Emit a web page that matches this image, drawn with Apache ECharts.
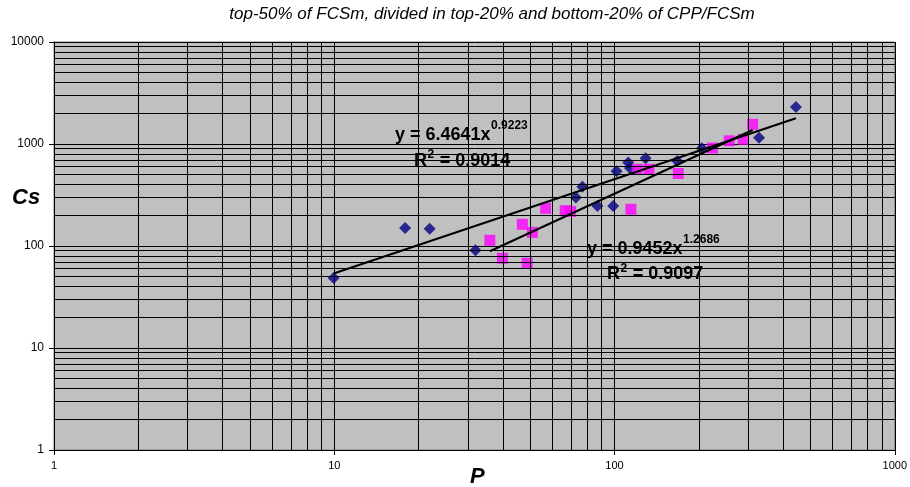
<!DOCTYPE html>
<html>
<head>
<meta charset="utf-8">
<script src="https://cdn.jsdelivr.net/npm/echarts@6/dist/echarts.min.js"></script>
<style>
html,body{margin:0;padding:0;background:#fff;}
#chart{width:910px;height:487px;}
</style>
</head>
<body>
<div id="chart"></div>
<script>
// ---- data ----
var blueP  = [9.95, 17.9, 21.9, 31.9, 72.8, 76.8, 86.9, 98.9, 101.7, 111.9, 113.5, 129.1, 167.4, 205, 328, 444];
var blueCs = [48.6, 150, 147.8, 90.8, 299, 381, 247, 247, 540, 658, 582, 724, 681, 907, 1153, 2306];

var pinkP  = [35.9, 39.8, 46.9, 50.9, 48.8, 56.8, 66.7, 69.7, 114.4, 120.5, 132.7, 168.8, 223.6, 256.6, 287.9, 311];
var pinkCs = [113.7, 75.8, 163, 136, 67.7, 234, 222, 218, 229, 565, 565, 514, 914, 1075, 1112, 1560];

// power-law trendlines (straight on log-log): end points
var blueTrendP  = [9.95, 444];
var blueTrendCs = [53.8, 1788];
var pinkTrendP  = [35.9, 311];
var pinkTrendCs = [88.8, 1372];

var xTickLabels = ['1', '10', '100', '1000'];
var yTickLabels = ['1', '10', '100', '1000', '10000'];

var xMinor = [2,3,4,5,6,7,8,9,20,30,40,50,60,70,80,90,200,300,400,500,600,700,800,900];
var yMinor = [2,3,4,5,6,7,8,9,20,30,40,50,60,70,80,90,200,300,400,500,600,700,800,900,2000,3000,4000,5000,6000,7000,8000,9000];

var titleText = 'top-50% of FCSm, divided in top-20% and bottom-20% of CPP/FCSm';
var eq1 = ['y = 6.4641x', '0.9223', ' = 0.9014'];
var eq2 = ['y = 0.9452x', '1.2686', ' = 0.9097'];

function pairs(a, b) { return a.map(function (v, i) { return [v, b[i]]; }); }

var FF = '"Liberation Sans", Arial, sans-serif';
var MAINF = 'bold 18px ' + FF;
var SUPF = 'bold 12px ' + FF;
var mctx = document.createElement('canvas').getContext('2d');
function tw(t, f) { mctx.font = f; return mctx.measureText(t).width; }

function txt(t, f, x, y) {
  return {type: 'text', x: x, y: y, z: 10,
    style: {text: t, font: f, fill: '#000', textAlign: 'left', textVerticalAlign: 'middle'}};
}
function equation(e, x, y, supDy) {
  var w = tw(e[0], MAINF);
  return [txt(e[0], MAINF, x, y), txt(e[1], SUPF, x + w + 0.5, y - supDy)];
}
function rsq(val, x, y, supDy) {
  var wR = tw('R', MAINF), w2 = tw('2', SUPF);
  return [txt('R', MAINF, x, y), txt('2', SUPF, x + wR + 0.5, y - supDy), txt(val, MAINF, x + wR + w2 + 1, y)];
}

var chart = echarts.init(document.getElementById('chart'), null, {renderer: 'canvas'});

var minorLines = xMinor.map(function (v) { return {xAxis: v}; })
  .concat(yMinor.map(function (v) { return {yAxis: v}; }));

var graphics = [
  {type: 'text', left: 12, top: 187, z: 10,
    style: {text: 'Cs', font: 'italic bold 22px ' + FF, fill: '#000'}},
  {type: 'text', left: 470, top: 466, z: 10,
    style: {text: 'P', font: 'italic bold 22px ' + FF, fill: '#000'}},
  {type: 'text', x: 492, y: 14, z: 10,
    style: {text: titleText, font: 'italic 17px ' + FF, fill: '#000', textAlign: 'center', textVerticalAlign: 'middle'}}
].concat(equation(eq1, 395, 135, 9))
 .concat(rsq(eq1[2], 414, 161, 6))
 .concat(equation(eq2, 587, 249, 9))
 .concat(rsq(eq2[2], 607, 274, 5));

var option = {
  animation: false,
  backgroundColor: '#fff',
  grid: {left: 54, right: 15, top: 42, bottom: 37, show: true, backgroundColor: '#C0C0C0', borderColor: '#808080', borderWidth: 1},
  xAxis: {
    type: 'log', logBase: 10, min: 1, max: 1000,
    axisLine: {show: true, lineStyle: {color: '#000', width: 1}},
    axisTick: {show: true, inside: false, length: 5, lineStyle: {color: '#000'}},
    axisLabel: {fontFamily: FF, fontSize: 11, color: '#000', margin: 10,
      formatter: function (v) { var i = Math.round(Math.log10(v)); return xTickLabels[i]; }},
    splitLine: {show: true, lineStyle: {color: '#000', width: 1}}
  },
  yAxis: {
    type: 'log', logBase: 10, min: 1, max: 10000,
    axisLine: {show: true, lineStyle: {color: '#000', width: 1}},
    axisTick: {show: true, inside: false, length: 5, lineStyle: {color: '#000'}},
    axisLabel: {fontFamily: FF, fontSize: 12, color: '#000', margin: 10,
      formatter: function (v) { var i = Math.round(Math.log10(v)); return yTickLabels[i]; }},
    splitLine: {show: true, lineStyle: {color: '#000', width: 1}}
  },
  series: [
    {
      type: 'line', data: [], z: 1, silent: true,
      markLine: {silent: true, symbol: ['none', 'none'], label: {show: false},
        lineStyle: {color: '#000', width: 1, type: 'solid'}, emphasis: {disabled: true},
        data: minorLines, animation: false}
    },
    {
      name: 'top-20%', type: 'scatter', data: pairs(blueP, blueCs), z: 2,
      symbol: 'diamond', symbolSize: 12, itemStyle: {color: '#000080'}
    },
    {
      name: 'bottom-20%', type: 'scatter', data: pairs(pinkP, pinkCs), z: 3,
      symbol: 'rect', symbolSize: 11, itemStyle: {color: '#FF00FF'}
    },
    {
      type: 'line', data: pairs(blueTrendP, blueTrendCs), z: 4, symbol: 'none',
      lineStyle: {color: '#000', width: 2}
    },
    {
      type: 'line', data: pairs(pinkTrendP, pinkTrendCs), z: 4, symbol: 'none',
      lineStyle: {color: '#000', width: 2}
    }
  ],
  graphic: graphics
};
chart.setOption(option);
</script>
</body>
</html>
